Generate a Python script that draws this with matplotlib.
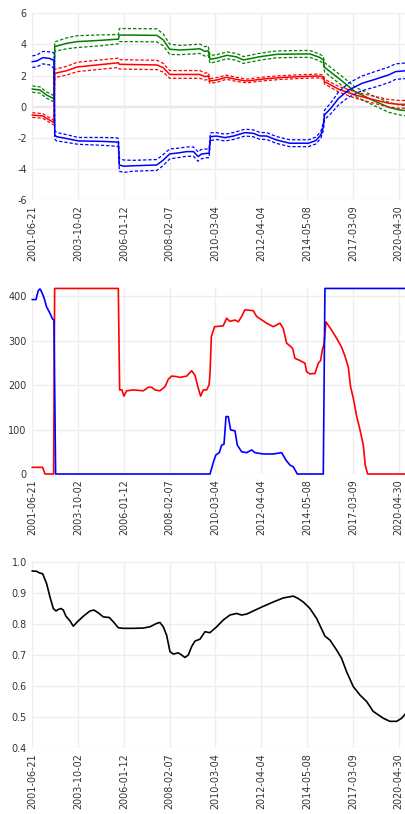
import matplotlib
matplotlib.use("Agg")
import matplotlib.pyplot as plt

# ---------------- data ----------------
tick_labels = ['2001-06-21', '2003-10-02', '2006-01-12', '2008-02-07', '2010-03-04',
               '2012-04-04', '2014-05-08', '2017-03-09', '2020-04-30']
tick_pos = [0, 100, 200, 300, 400, 500, 600, 700, 800]
x_max = 816

# Panel 1: coefficient lines with bands (half-width)
blue_x = [0, 10, 23, 38, 45, 47.5, 49, 53, 75, 100, 150, 183, 188, 190, 200, 220, 272, 286, 300,
          322, 337, 352, 362, 369, 381, 386, 389, 402, 421, 439, 464, 482, 497, 512, 533, 562,
          603, 619, 630, 635.5, 638, 652, 669, 691, 720, 749, 778, 793, 816]
blue_y = [2.89, 2.94, 3.15, 3.1, 3.0, 2.95, -1.82, -1.93, -2.05, -2.2, -2.23, -2.27, -2.31,
          -3.75, -3.83, -3.8, -3.75, -3.43, -3.04, -2.96, -2.89, -2.89, -3.21, -3.05, -3.0, -3.0,
          -1.93, -1.89, -1.99, -1.89, -1.67, -1.71, -1.88, -1.89, -2.14, -2.35, -2.35, -2.18,
          -1.82, -1.28, -0.53, -0.1, 0.54, 1.07, 1.5, 1.76, 2.04, 2.25, 2.31]
blue_hw = [0.37, 0.38, 0.4, 0.42, 0.48, 0.48, 0.27, 0.27, 0.25, 0.22, 0.25, 0.27, 0.27,
           0.4, 0.4, 0.35, 0.35, 0.35, 0.32, 0.3, 0.3, 0.3, 0.3, 0.3, 0.28, 0.28,
           0.25, 0.22, 0.22, 0.22, 0.22, 0.22, 0.22, 0.22, 0.22, 0.22, 0.22, 0.22,
           0.22, 0.25, 0.3, 0.35, 0.42, 0.45, 0.47, 0.5, 0.5, 0.5, 0.5]

green_x = [0, 17, 31, 45, 47.5, 49, 75, 98, 148, 183, 188, 190, 220, 272, 286, 300, 322, 352,
           366, 377, 384, 388, 402, 425, 446, 461, 497, 533, 570, 606, 627, 635.5, 638, 669,
           705, 742, 778, 800, 816]
green_y = [1.13, 1.07, 0.75, 0.54, 0.5, 3.86, 4.07, 4.18, 4.26, 4.33, 4.33, 4.6, 4.6, 4.58,
           4.29, 3.69, 3.64, 3.69, 3.72, 3.55, 3.6, 3.05, 3.11, 3.3, 3.2, 3.0, 3.21, 3.36,
           3.38, 3.39, 3.17, 3.0, 2.53, 1.82, 0.96, 0.43, -0.04, -0.2, -0.26]
green_hw = [0.2, 0.2, 0.2, 0.2, 0.2, 0.3, 0.35, 0.38, 0.35, 0.3, 0.3, 0.42, 0.42, 0.42, 0.38,
            0.33, 0.3, 0.3, 0.3, 0.3, 0.3, 0.25, 0.22, 0.22, 0.22, 0.22, 0.22, 0.22, 0.22,
            0.22, 0.22, 0.22, 0.3, 0.3, 0.3, 0.3, 0.32, 0.32, 0.33]

red_x = [0, 23, 31, 46, 47.5, 49, 75, 98, 148, 188, 190, 272, 286, 300, 366, 377, 384, 388,
         402, 424, 446, 468, 512, 548, 585, 621, 635.5, 638, 669, 705, 742, 778, 800, 816]
red_y = [-0.54, -0.6, -0.75, -1.0, -1.03, 2.14, 2.31, 2.55, 2.7, 2.82, 2.72, 2.68, 2.5, 2.07,
         2.07, 1.93, 1.97, 1.65, 1.71, 1.89, 1.75, 1.65, 1.8, 1.88, 1.93, 1.97, 1.92, 1.61,
         1.12, 0.75, 0.47, 0.22, 0.15, 0.15]
red_hw = [0.15, 0.15, 0.15, 0.15, 0.15, 0.27, 0.28, 0.3, 0.3, 0.3, 0.3, 0.3, 0.28, 0.25, 0.25,
          0.22, 0.22, 0.15, 0.15, 0.13, 0.13, 0.12, 0.12, 0.12, 0.12, 0.12, 0.12, 0.15, 0.18,
          0.2, 0.22, 0.24, 0.25, 0.25]

# Panel 2
p2_red_x = [0, 22.6, 27.7, 46.6, 48.8, 187.8, 190.7, 195.8, 200, 206, 220.5, 242.4, 253.3,
            260.6, 267.8, 278.7, 289.7, 297, 304.2, 315.1, 322.4, 337, 347.9, 355.2, 362.4,
            367.5, 373.4, 380.6, 386, 388, 391, 398, 417, 424.3, 431.6, 442.5, 449.8, 457,
            464.3, 482.5, 489.8, 511.6, 526.2, 540.8, 548, 555.3, 562.6, 568.4, 573.5, 584.4,
            595.3, 599, 606.2, 617.2, 624.5, 629.5, 633.9, 636.8, 641.2, 653, 664.5, 675.4,
            682.7, 690, 695, 701, 708.2, 715.4, 722.7, 727, 732.2, 816]
p2_red_y = [15, 15, 0, 0, 417, 417, 189, 189, 175, 187, 189, 187, 195, 195, 189, 187, 196, 213,
            220, 219, 217, 220, 232, 222, 193, 175, 189, 189, 200, 225, 309, 331, 333, 350,
            343, 346, 342, 354, 369, 367, 354, 339, 331, 339, 327, 294, 288, 282, 260, 255,
            249, 230, 225, 226, 249, 255, 282, 290, 342, 324, 305, 285, 265, 240, 196, 170,
            130, 100, 65, 20, 0, 0]
p2_blue_x = [0, 8, 13, 16.7, 20, 26, 31, 38.6, 44.4, 47.3, 50.9, 388, 396.7, 401, 408.4, 413.5,
             418.6, 423, 428, 433, 442.6, 447.6, 457, 468, 479, 486, 504, 526, 544.5, 554,
             562.7, 570, 578.6, 635.4, 639, 816]
p2_blue_y = [392, 392, 412, 416, 410, 395, 376, 361, 348, 346, 0, 0, 31, 43, 48, 65, 67, 129,
             129, 99, 97, 65, 50, 48, 54, 48, 45, 45, 48, 31, 20, 16, 0, 0, 417, 417]

# Panel 3
p3_x = [0, 9.5, 15.3, 22.6, 31.3, 38.6, 45.9, 51.7, 56.8, 62.6, 67.7, 73.5, 82.2, 89.5, 98.3,
        111.4, 125.9, 134.6, 144.1, 155, 168.1, 176.9, 187.8, 198.7, 220.5, 242.4, 256.9,
        271.5, 278.7, 286, 293.3, 300.6, 307.9, 318.8, 326, 333.3, 340.6, 347.9, 355.2, 366.1,
        377, 387.9, 402.5, 417, 431.6, 446.1, 457, 468, 482.5, 504.4, 526.2, 548, 569.9,
        580.8, 591.7, 606.3, 620.8, 639, 650, 664.5, 675.4, 686.3, 700.9, 715.4, 730, 744.5,
        766.4, 780.9, 795.5, 806.4, 815.9]
p3_y = [0.971, 0.970, 0.965, 0.962, 0.930, 0.887, 0.85, 0.842, 0.847, 0.85, 0.845, 0.825, 0.81,
        0.793, 0.807, 0.825, 0.842, 0.845, 0.836, 0.823, 0.821, 0.807, 0.788, 0.786, 0.786,
        0.787, 0.791, 0.802, 0.805, 0.791, 0.764, 0.711, 0.703, 0.707, 0.70, 0.692, 0.70,
        0.727, 0.745, 0.751, 0.775, 0.772, 0.791, 0.813, 0.829, 0.834, 0.829, 0.832, 0.842,
        0.857, 0.871, 0.884, 0.89, 0.882, 0.871, 0.85, 0.818, 0.761, 0.748, 0.716, 0.689,
        0.646, 0.598, 0.571, 0.55, 0.518, 0.496, 0.486, 0.486, 0.496, 0.512]

# ---------------- figure ----------------
W, H = 406, 814
fig = plt.figure(figsize=(W / 100, H / 100), dpi=100)
FONT = 'DejaVu Sans'
FS = 6.9
GRID = '#EEEEEE'
TXT = '#333333'

def make_ax(top_px, bot_px):
    left = 32.3 / W
    ax = fig.add_axes([left, 1 - bot_px / H, 1 - left, (bot_px - top_px) / H])
    for s in ax.spines.values():
        s.set_visible(False)
    ax.set_xlim(0, x_max)
    ax.set_xticks(tick_pos)
    ax.set_xticklabels(tick_labels, rotation=90, fontsize=FS, family=FONT, color=TXT)
    ax.tick_params(length=0, pad=4)
    ax.grid(True, color=GRID, linewidth=1.0)
    ax.set_axisbelow(True)
    return ax

def dash_kw(color):
    return dict(color=color, linewidth=0.9, dashes=(2.6, 1.6), clip_on=False)

# Panel 1
ax1 = make_ax(13.3, 200)
ax1.set_ylim(-6, 6)
ax1.set_yticks([-6, -4, -2, 0, 2, 4, 6])
ax1.set_yticklabels(['-6', '-4', '-2', '0', '2', '4', '6'], fontsize=FS, family=FONT, color=TXT)
ax1.axhline(0, color='#E2E2E2', linewidth=1.6, zorder=0.5)
for xs, ys, hw, c in [(green_x, green_y, green_hw, 'green'),
                      (red_x, red_y, red_hw, 'red'),
                      (blue_x, blue_y, blue_hw, 'blue')]:
    up = [y + h for y, h in zip(ys, hw)]
    lo = [y - h for y, h in zip(ys, hw)]
    ax1.plot(xs, up, **dash_kw(c))
    ax1.plot(xs, lo, **dash_kw(c))
    ax1.plot(xs, ys, color=c, linewidth=1.1, clip_on=False)

# Panel 2
ax2 = make_ax(288, 474)
ax2.set_ylim(0, 418)
ax2.set_yticks([0, 100, 200, 300, 400])
ax2.set_yticklabels(['0', '100', '200', '300', '400'], fontsize=FS, family=FONT, color=TXT)
ax2.plot(p2_red_x, p2_red_y, color='red', linewidth=1.2, clip_on=False)
ax2.plot(p2_blue_x, p2_blue_y, color='blue', linewidth=1.2, clip_on=False)

# Panel 3
ax3 = make_ax(562, 748)
ax3.set_ylim(0.4, 1.0)
ax3.set_yticks([0.4, 0.5, 0.6, 0.7, 0.8, 0.9, 1.0])
ax3.set_yticklabels(['0.4', '0.5', '0.6', '0.7', '0.8', '0.9', '1.0'], fontsize=FS, family=FONT, color=TXT)
ax3.plot(p3_x, p3_y, color='black', linewidth=1.2, clip_on=False)

fig.savefig('out.png', dpi=100, facecolor='white')
